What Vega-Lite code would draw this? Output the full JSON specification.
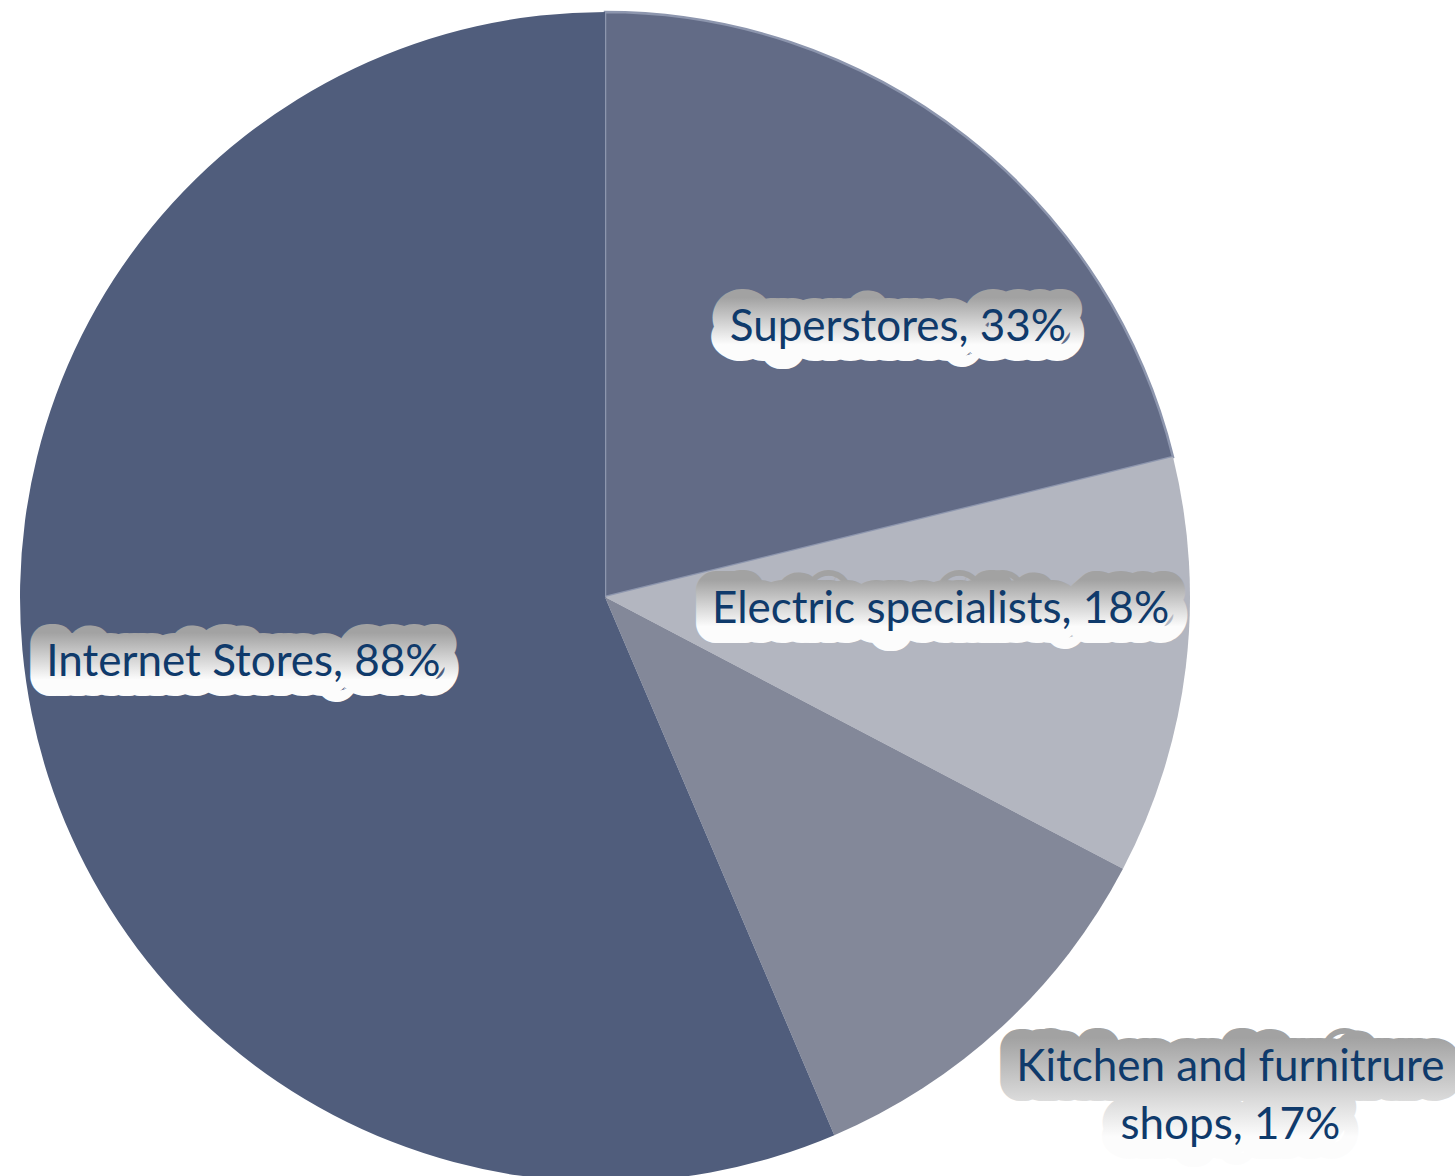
{
  "$schema": "https://vega.github.io/schema/vega-lite/v6.json",
  "autosize": "none",
  "width": 1210,
  "height": 1194,
  "padding": {"left": 0, "top": 0, "right": 245, "bottom": 0},
  "background": "white",
  "config": {"view": {"stroke": null}},
  "data": {
    "values": [
      {"category": "Superstores", "value": 33, "rank": 1, "label": "Superstores, 33%"},
      {"category": "Electric specialists", "value": 18, "rank": 2, "label": "Electric specialists, 18%"},
      {"category": "Kitchen and furnitrure shops", "value": 17, "rank": 3, "label": "Kitchen and furnitrure\nshops, 17%"},
      {"category": "Internet Stores", "value": 88, "rank": 4, "label": "Internet Stores, 88%"}
    ]
  },
  "encoding": {
    "theta": {"field": "value", "type": "quantitative", "stack": true},
    "order": {"field": "rank", "type": "quantitative"}
  },
  "layer": [
    {
      "mark": {"type": "arc", "outerRadius": 585, "stroke": "#8d96ae"},
      "encoding": {
        "color": {
          "field": "category",
          "type": "nominal",
          "scale": {
            "domain": ["Superstores", "Electric specialists", "Kitchen and furnitrure shops", "Internet Stores"],
            "range": ["#626b86", "#b3b6c0", "#838899", "#505d7c"]
          },
          "legend": null
        },
        "strokeWidth": {"condition": {"test": "datum.category === 'Superstores'", "value": 2.5}, "value": 0}
      }
    },
    {
      "mark": {"type": "text", "radius": 342, "dx": 82, "dy": 0, "font": "Lato", "fontSize": 44, "align": "center", "baseline": "middle", "lineBreak": "\n", "lineHeight": 58, "fill": "white", "strokeWidth": 40, "strokeJoin": "round",
        "stroke": {"gradient": "linear", "x1": 0, "y1": 0, "x2": 0, "y2": 1, "stops": [{"offset": 0, "color": "#a2a2a2"}, {"offset": 0.9, "color": "#fcfcfc"}]}},
      "encoding": {"text": {"condition": {"test": "datum.category === 'Superstores'", "field": "label"}, "value": ""}}
    },
    {
      "mark": {"type": "text", "radius": 338, "dx": 0, "dy": -28, "font": "Lato", "fontSize": 44, "align": "center", "baseline": "middle", "lineBreak": "\n", "lineHeight": 58, "fill": "white", "strokeWidth": 40, "strokeJoin": "round",
        "stroke": {"gradient": "linear", "x1": 0, "y1": 0, "x2": 0, "y2": 1, "stops": [{"offset": 0, "color": "#a2a2a2"}, {"offset": 0.9, "color": "#fcfcfc"}]}},
      "encoding": {"text": {"condition": {"test": "datum.category === 'Electric specialists'", "field": "label"}, "value": ""}}
    },
    {
      "mark": {"type": "text", "radius": 673, "dx": 169, "dy": -24, "font": "Lato", "fontSize": 44, "align": "center", "baseline": "middle", "lineBreak": "\n", "lineHeight": 58, "fill": "white", "strokeWidth": 40, "strokeJoin": "round",
        "stroke": {"gradient": "linear", "x1": 0, "y1": 0, "x2": 0, "y2": 1, "stops": [{"offset": 0, "color": "#a2a2a2"}, {"offset": 0.9, "color": "#fcfcfc"}]}},
      "encoding": {"text": {"condition": {"test": "datum.category === 'Kitchen and furnitrure shops'", "field": "label"}, "value": ""}}
    },
    {
      "mark": {"type": "text", "radius": 369, "dx": 0, "dy": -8, "font": "Lato", "fontSize": 44, "align": "center", "baseline": "middle", "lineBreak": "\n", "lineHeight": 58, "fill": "white", "strokeWidth": 40, "strokeJoin": "round",
        "stroke": {"gradient": "linear", "x1": 0, "y1": 0, "x2": 0, "y2": 1, "stops": [{"offset": 0, "color": "#a2a2a2"}, {"offset": 0.9, "color": "#fcfcfc"}]}},
      "encoding": {"text": {"condition": {"test": "datum.category === 'Internet Stores'", "field": "label"}, "value": ""}}
    },
    {
      "mark": {"type": "text", "radius": 342, "dx": 82, "dy": 0, "font": "Lato", "fontSize": 44, "align": "center", "baseline": "middle", "lineBreak": "\n", "lineHeight": 58, "fill": "#0f3a6b"},
      "encoding": {"text": {"condition": {"test": "datum.category === 'Superstores'", "field": "label"}, "value": ""}}
    },
    {
      "mark": {"type": "text", "radius": 338, "dx": 0, "dy": -28, "font": "Lato", "fontSize": 44, "align": "center", "baseline": "middle", "lineBreak": "\n", "lineHeight": 58, "fill": "#0f3a6b"},
      "encoding": {"text": {"condition": {"test": "datum.category === 'Electric specialists'", "field": "label"}, "value": ""}}
    },
    {
      "mark": {"type": "text", "radius": 673, "dx": 169, "dy": -24, "font": "Lato", "fontSize": 44, "align": "center", "baseline": "middle", "lineBreak": "\n", "lineHeight": 58, "fill": "#0f3a6b"},
      "encoding": {"text": {"condition": {"test": "datum.category === 'Kitchen and furnitrure shops'", "field": "label"}, "value": ""}}
    },
    {
      "mark": {"type": "text", "radius": 369, "dx": 0, "dy": -8, "font": "Lato", "fontSize": 44, "align": "center", "baseline": "middle", "lineBreak": "\n", "lineHeight": 58, "fill": "#0f3a6b"},
      "encoding": {"text": {"condition": {"test": "datum.category === 'Internet Stores'", "field": "label"}, "value": ""}}
    }
  ]
}
